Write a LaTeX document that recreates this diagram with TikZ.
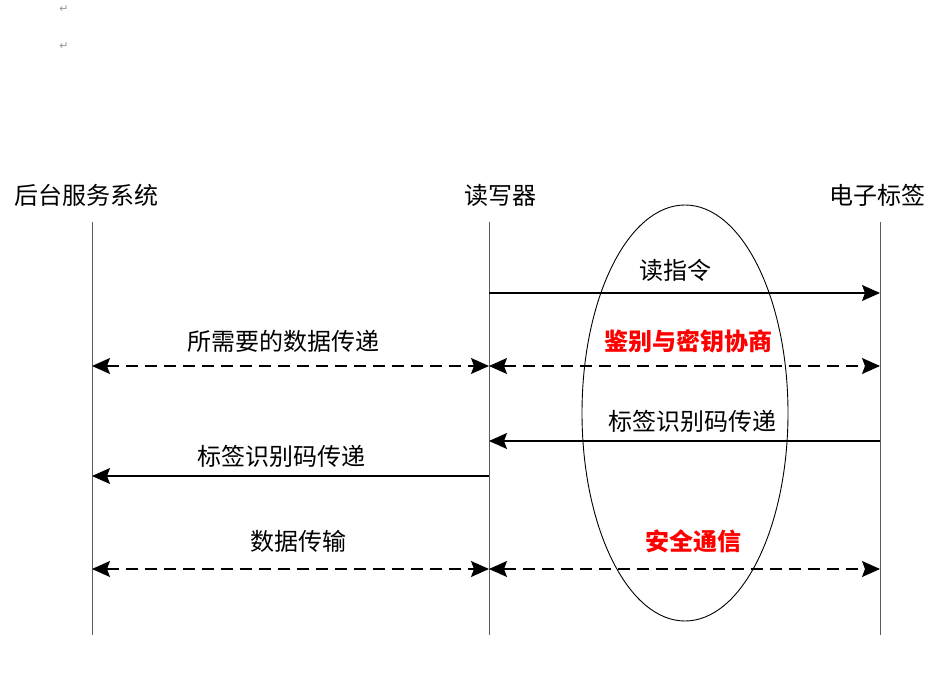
\documentclass[tikz,border=0pt]{standalone}
\usepackage{fontspec}
\setmainfont{Noto Sans CJK SC}
\newfontfamily\symfont{DejaVu Sans}
\usetikzlibrary{arrows.meta}
\definecolor{lifegray}{RGB}{90,90,90}
\definecolor{markgray}{RGB}{150,150,150}
\tikzset{
  lbl/.style={font=\fontsize{24}{24}\selectfont, inner sep=0pt, anchor=center},
  redlbl/.style={lbl, text=red, font=\fontsize{24}{24}\selectfont\bfseries},
  lifeline/.style={draw=lifegray, line width=1pt},
  tip/.tip={Stealth[length=18pt,width=16pt,inset=3pt]},
  msg/.style={draw=black, line width=1.2pt, -tip},
  dmsg/.style={msg, tip-tip, dash pattern=on 12pt off 7pt},
  pmark/.style={font=\symfont\fontsize{11}{11}\selectfont, text=markgray, inner sep=0pt}
}
\begin{document}
\begin{tikzpicture}[x=1pt,y=-1pt]
\useasboundingbox (0,0) rectangle (934,700);
\node[pmark] (pm1) at (64,9) {↵};
\node[pmark] (pm2) at (64,46) {↵};
% titles
\node[lbl] (tA) at (86,195) {后台服务系统};
\node[lbl] (tB) at (500,195) {读写器};
\node[lbl] (tC) at (877,195) {电子标签};
% lifelines
\coordinate (A0) at (92,222); \coordinate (A1) at (92,635);
\coordinate (B0) at (489,222); \coordinate (B1) at (489,635);
\coordinate (C0) at (880,222); \coordinate (C1) at (880,635);
\draw[lifeline] (A0) -- (A1);
\draw[lifeline] (B0) -- (B1);
\draw[lifeline] (C0) -- (C1);
% ellipse
\draw[draw=black, line width=0.9pt] (685,413) ellipse [x radius=103, y radius=208];
% message endpoints
\coordinate (B1m) at (489,293); \coordinate (C1m) at (880,293);
\coordinate (A2m) at (92,366); \coordinate (B2m) at (489,366); \coordinate (C2m) at (880,366);
\coordinate (C3m) at (880,441); \coordinate (B3m) at (489,441);
\coordinate (B4m) at (489,476); \coordinate (A4m) at (92,476);
\coordinate (A5m) at (92,569); \coordinate (B5m) at (489,569); \coordinate (C5m) at (880,569);
\draw[msg] (B1m) -- (C1m);
\draw[dmsg] (A2m) -- (B2m);
\draw[dmsg] (B2m) -- (C2m);
\draw[msg] (C3m) -- (B3m);
\draw[msg] (B4m) -- (A4m);
\draw[dmsg] (A5m) -- (B5m);
\draw[dmsg] (B5m) -- (C5m);
% labels
\node[lbl] (l1) at (675,270) {读指令};
\node[lbl] (l2) at (283,341) {所需要的数据传递};
\node[redlbl] (l3) at (688,341) {鉴别与密钥协商};
\node[lbl] (l4) at (692,421) {标签识别码传递};
\node[lbl] (l5) at (281,456) {标签识别码传递};
\node[lbl] (l6) at (298,541) {数据传输};
\node[redlbl] (l7) at (693,541) {安全通信};
\end{tikzpicture}
\end{document}
